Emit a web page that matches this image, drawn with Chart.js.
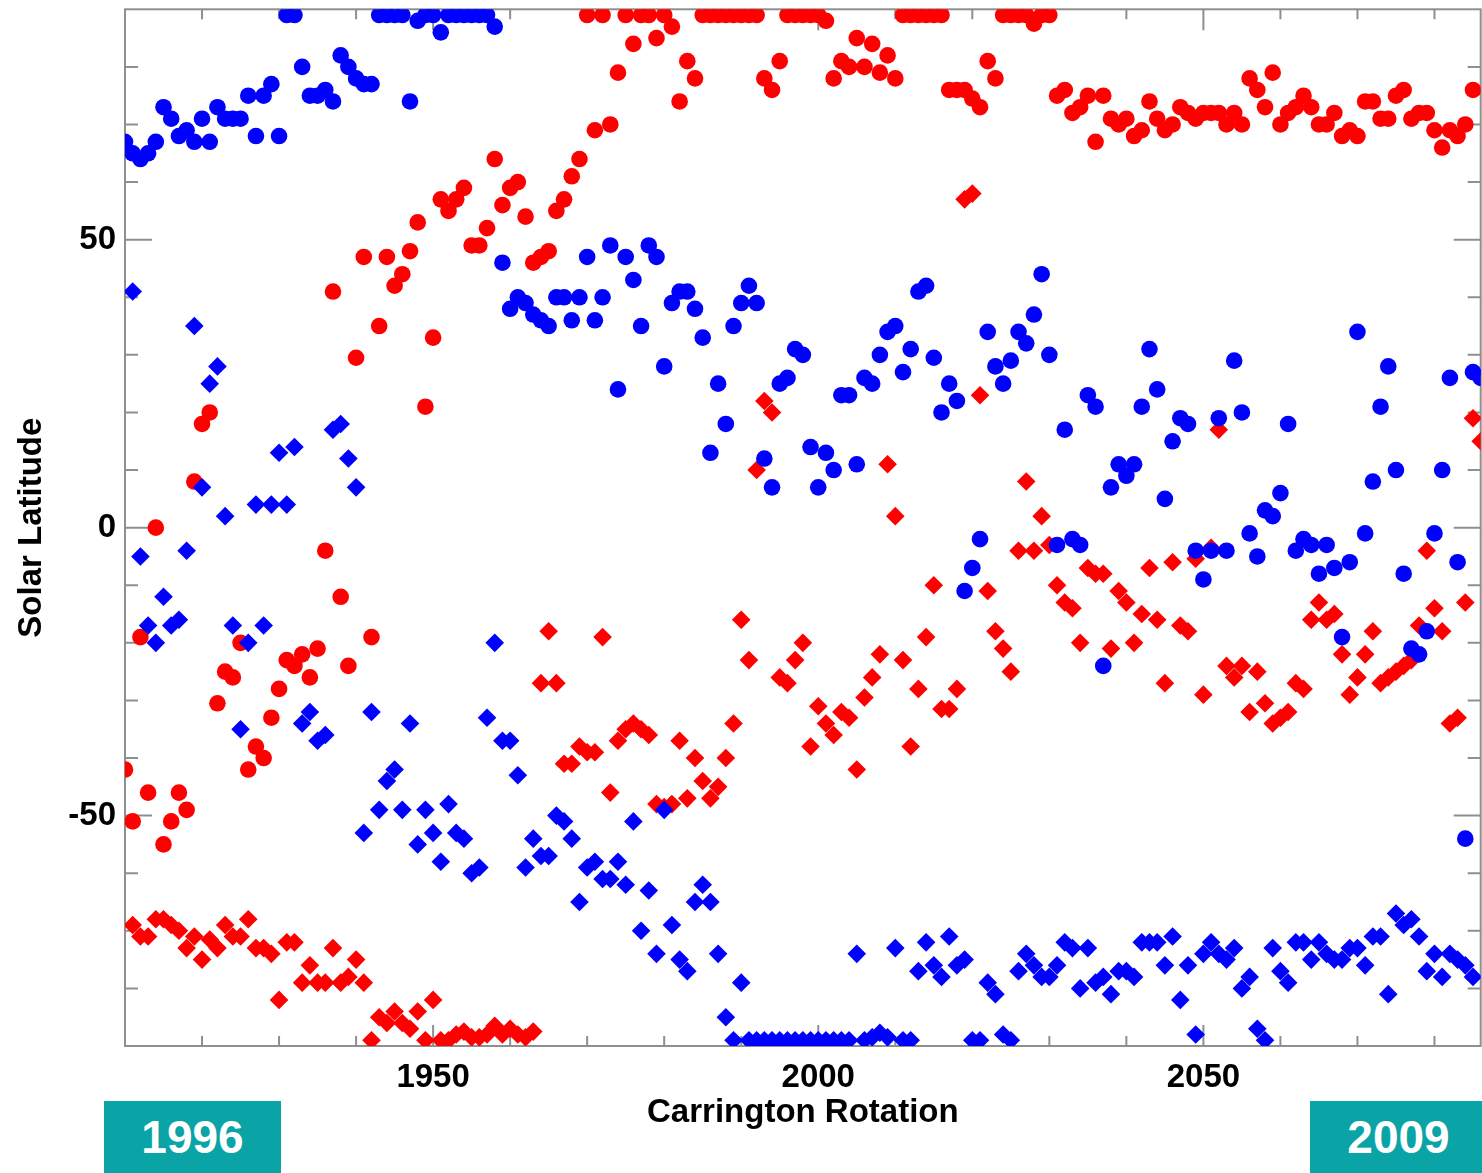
<!DOCTYPE html>
<html>
<head>
<meta charset="utf-8">
<script src="https://cdn.jsdelivr.net/npm/chart.js@4.4.1/dist/chart.umd.min.js"></script>
<style>
  html, body { margin: 0; padding: 0; background: #fff; overflow: hidden; width: 1482px; height: 1173px; }
  #wrap { position: absolute; left: 0; top: 0; width: 1490px; height: 1173px; }
  .badge {
    position: absolute; top: 1101px; width: 177px; height: 72px;
    background: #0aa3a6; color: #fff;
    font: bold 46px "Liberation Sans", Arial, Helvetica, sans-serif;
    display: flex; align-items: center; justify-content: center;
  }
</style>
</head>
<body>
<div id="wrap"><canvas id="c" width="1490" height="1173"></canvas></div>
<div class="badge" style="left:104px">1996</div>
<div class="badge" style="left:1310px">2009</div>
<script>
// Red circles
const rcRot = [
  1910,1911,1912,1913,1914,1915,1916,1917,1918,1919,
  1920,1921,1922,1923,1924,1925,1926,1927,1928,1929,
  1930,1931,1932,1933,1934,1935,1936,1937,1938,1939,
  1940,1941,1942,1943,1944,1945,1946,1947,1948,1949,
  1950,1951,1952,1953,1954,1955,1956,1957,1958,1959,
  1960,1961,1962,1963,1964,1965,1966,1967,1968,1969,
  1970,1971,1972,1973,1974,1975,1976,1977,1978,1979,
  1980,1981,1982,1983,1984,1985,1986,1987,1988,1989,
  1990,1991,1992,1993,1994,1995,1996,1997,1998,1999,
  2000,2001,2002,2003,2004,2005,2006,2007,2008,2009,
  2010,2011,2012,2013,2014,2015,2016,2017,2018,2019,
  2020,2021,2022,2023,2024,2025,2026,2027,2028,2029,
  2030,2031,2032,2033,2034,2035,2036,2037,2038,2039,
  2040,2041,2042,2043,2044,2045,2046,2047,2048,2049,
  2050,2051,2052,2053,2054,2055,2056,2057,2058,2059,
  2060,2061,2062,2063,2064,2065,2066,2067,2068,2069,
  2070,2071,2072,2073,2074,2075,2076,2077,2078,2079,
  2080,2081,2082,2083,2084,2085
];
const rcLat = [
  -42,-51,-19,-46,0,-55,-51,-46,-49,8,
  18,20,-30.5,-25,-26,-20,-42,-38,-40,-33,
  -28,-23,-24,-22,-26,-21,-4,41,-12,-24,
  29.5,47,-19,35,47,42,44,48,53,21,
  33,57,55,57,59,49,49,52,64,56,
  59,60,54,46,47,48,55,57,61,64,
  89,69,89,70,79,89,84,89,89,85,
  89,87,74,81,78,89,89,89,89,89,
  89,89,89,78,76,81,89,89,89,89,
  89,88,78,81,80,85,80,84,79,82,
  78,89,89,89,89,89,89,76,76,76,
  74.5,73,81,78,89,89,89,89,87.5,89,
  89,75,76,72,73,75,67,75,71,70,
  71,68,69,74,71,69,70,73,72,71,
  72,72,72,70,72,70,78,76,73,79,
  70,72,73,75,73,70,70,72,68,69,
  68,74,74,71,71,75,76,71,72,72,
  69,66,69,68,70,76
];

// Red diamonds
const rdRot = [
  1911,1912,1913,1914,1915,1916,1917,1918,1919,
  1920,1921,1922,1923,1924,1925,1926,1927,1928,1929,
  1930,1931,1932,1933,1934,1935,1936,1937,1938,1939,
  1940,1941,1942,1943,1944,1945,1946,1947,1948,1949,
  1950,1951,1952,1953,1954,1955,1956,1957,1958,1959,
  1960,1961,1962,1963,1964,1965,1966,1967,1968,1969,
  1970,1971,1972,1973,1974,1975,1976,1977,1978,1979,
  1980,1981,1982,1983,1984,1985,1986,1987,1988,1989,
  1990,1991,1992,1993,1994,1995,1996,1997,1998,1999,
  2000,2001,2002,2003,2004,2005,2006,2007,2008,2009,
  2010,2011,2012,2013,2014,2015,2016,2017,2018,2019,
  2020,2021,2022,2023,2024,2025,2026,2027,2028,2029,
  2030,2031,2032,2033,2034,2035,2036,2037,2038,2039,
  2040,2041,2042,2043,2044,2045,2046,2047,2048,2049,
  2050,2051,2052,2053,2054,2055,2056,2057,2058,2059,
  2060,2061,2062,2063,2064,2065,2066,2067,2068,2069,
  2070,2071,2072,2073,2074,2075,2076,2077,2078,2079,
  2080,2081,2082,2083,2084,2085,2086
];
const rdLat = [
  -69,-71,-71,-68,-68,-69,-70,-73,-71,
  -75,-71.5,-73,-69,-71,-71,-68,-73,-73,-74,
  -82,-72,-72,-79,-76,-79,-79,-73,-79,-78,
  -75,-79,-89,-85,-86,-84,-86,-87,-84,-89,
  -82,-89,-89,-88,-87.5,-88.5,-88.5,-88,-86.5,-88,
  -87,-88,-88.5,-87.5,-27,-18,-27,-41,-41,-38,
  -39,-39,-19,-46,-37,-35,-34,-35,-36,-48,
  -48.5,-48,-37,-47,-40,-44,-47,-45,-40,-34,
  -16,-23,10,22,20,-26,-27,-23,-20,-38,
  -31,-34,-36,-32,-33,-42,-29.5,-26,-22,11,
  2,-23,-38,-28,-19,-10,-31.5,-31.5,-28,57,
  58,23,-11,-18,-21,-25,-4,8,-4,2,
  -3,-10,-13,-14,-20,-7,-8,-8,-21,-11,
  -13,-20,-15,-7,-16,-27,-6,-17,-18,-5.4,
  -29,-3.5,17,-24,-26,-24,-32,-25,-30.5,-34,
  -33,-32,-27,-28,-16,-13,-16,-15,-22,-29,
  -26,-22,-18,-27,-26,-25,-24,-23,-17,-4,
  -14,-18,-34,-33,-13,19,15
];

// Blue circles
const bcRot = [
  1910,1911,1912,1913,1914,1915,1916,1917,1918,1919,
  1920,1921,1922,1923,1924,1925,1926,1927,1928,1929,
  1930,1931,1932,1933,1934,1935,1936,1937,1938,1939,
  1940,1941,1942,1943,1944,1945,1946,1947,1948,1949,
  1950,1951,1952,1953,1954,1955,1956,1957,1958,1959,
  1960,1961,1962,1963,1964,1965,1966,1967,1968,1969,
  1970,1971,1972,1973,1974,1975,1976,1977,1978,1979,
  1980,1981,1982,1983,1984,1985,1986,1987,1988,1989,
  1990,1991,1992,1993,1994,1995,1996,1997,1998,1999,
  2000,2001,2002,2003,2004,2005,2006,2007,2008,2009,
  2010,2011,2012,2013,2014,2015,2016,2017,2018,2019,
  2020,2021,2022,2023,2024,2025,2026,2027,2028,2029,
  2030,2031,2032,2033,2034,2035,2036,2037,2038,2039,
  2040,2041,2042,2043,2044,2045,2046,2047,2048,2049,
  2050,2051,2052,2053,2054,2055,2056,2057,2058,2059,
  2060,2061,2062,2063,2064,2065,2066,2067,2068,2069,
  2070,2071,2072,2073,2074,2075,2076,2077,2078,2079,
  2080,2081,2082,2083,2084,2085,2086
];
const bcLat = [
  67,65,64,65,67,73,71,68,69,67,
  71,67,73,71,71,71,75,68,75,77,
  68,89,89,80,75,75,76,74,82,80,
  78,77,77,89,89,89,89,74,88,89,
  89,86,89,89,89,89,89,89,87,46,
  38,40,39,37,36,35,40,40,36,40,
  47,36,40,49,24,47,43,35,49,47,
  28,39,41,41,38,33,13,25,18,35,
  39,42,39,12,7,25,26,31,30,14,
  7,13,10,23,23,11,26,25,30,34,
  35,27,31,41,42,29.5,20,25,22,-11,
  -7,-2,34,28,25,29,34,32,37,44,
  30,-3,17,-2,-3,23,21,-24,7,11,
  9,11,21,31,24,5,15,19,18,-4,
  -9,-4,19,-4,29,20,-1,-5,3,2,
  6,18,-4,-2,-3,-8,-3,-7,-19,-6,
  34,-1,8,21,28,10,-8,-21,-22,-18,
  -1,10,26,-6,-54,27,26
];

// Blue diamonds
const bdRot = [
  1911,1912,1913,1914,1915,1916,1917,1918,1919,
  1920,1921,1922,1923,1924,1925,1926,1927,1928,1929,
  1930,1931,1932,1933,1934,1935,1936,1937,1938,1939,
  1940,1941,1942,1943,1944,1945,1946,1947,1948,1949,
  1950,1951,1952,1953,1954,1955,1956,1957,1958,1959,
  1960,1961,1962,1963,1964,1965,1966,1967,1968,1969,
  1970,1971,1972,1973,1974,1975,1976,1977,1978,1979,
  1980,1981,1982,1983,1984,1985,1986,1987,1988,1989,
  1990,1991,1992,1993,1994,1995,1996,1997,1998,1999,
  2000,2001,2002,2003,2004,2005,2006,2007,2008,2009,
  2010,2011,2012,2013,2014,2015,2016,2017,2018,2019,
  2020,2021,2022,2023,2024,2025,2026,2027,2028,2029,
  2030,2031,2032,2033,2034,2035,2036,2037,2038,2039,
  2040,2041,2042,2043,2044,2045,2046,2047,2048,2049,
  2050,2051,2052,2053,2054,2055,2056,2057,2058,2059,
  2060,2061,2062,2063,2064,2065,2066,2067,2068,2069,
  2070,2071,2072,2073,2074,2075,2076,2077,2078,2079,
  2080,2081,2082,2083,2084,2085
];
const bdLat = [
  41,-5,-17,-20,-12,-17,-16,-4,35,
  7,25,28,2,-17,-35,-20,4,-17,4,
  13,4,14,-34,-32,-37,-36,17,18,12,
  7,-53,-32,-49,-44,-42,-49,-34,-55,-49,
  -53,-58,-48,-53,-54,-60,-59,-33,-20,-37,
  -37,-43,-59,-54,-57,-57,-50,-51,-54,-65,
  -59,-58,-61,-61,-58,-62,-51,-70,-63,-74,
  -49,-69,-75,-77,-65,-62,-65,-74,-85,-89,
  -79,-89,-89,-89,-89,-89,-89,-89,-89,-89,
  -89,-89,-89,-89,-89,-74,-89,-88.5,-87.7,-88.5,
  -73,-89,-89,-77,-72,-76,-78,-71,-76,-75,
  -89,-89,-79,-81,-88,-89,-77,-74,-76,-78,
  -78,-76,-72,-73,-80,-73,-79,-78,-81,-77,
  -77,-78,-72,-72,-72,-76,-71,-82,-76,-88,
  -74,-72,-74,-75,-73,-80,-78,-87,-89,-73,
  -77,-79,-72,-72,-75,-72,-74,-75,-75,-73,
  -73,-76,-71,-71,-81,-67,-69,-68,-71,-77,
  -74,-78,-74,-75,-76,-78
];

// Axis ticks
const rotRange = [1910, 2086];
const latRange = [-90, 90];
const rotMajor = [1950, 2000, 2050];
const rotMinor = [1920, 1930, 1940, 1960, 1970, 1980, 1990, 2010, 2020, 2030, 2040, 2060, 2070, 2080];
const latMajor = [-50, 0, 50];
const latMinor = [-80, -70, -60, -40, -30, -20, -10, 10, 20, 30, 40, 60, 70, 80];

const FONT = '"Liberation Sans", Arial, Helvetica, sans-serif';

function toPoints(rot, lat) {
  return rot.map((r, i) => ({ x: r, y: lat[i] }));
}

// Box frame with inward ticks on all four sides
const framePlugin = {
  id: 'frame',
  beforeDatasetsDraw(chart) {
    const { ctx, chartArea: a, scales: { x, y } } = chart;
    ctx.save();
    ctx.strokeStyle = '#8f8f8f';
    ctx.lineWidth = 2;
    ctx.strokeRect(a.left, a.top, a.right - a.left, a.bottom - a.top);
    ctx.beginPath();
    const yTick = (v, len) => {
      const p = y.getPixelForValue(v);
      ctx.moveTo(a.left, p); ctx.lineTo(a.left + len, p);
      ctx.moveTo(a.right, p); ctx.lineTo(a.right - len, p);
    };
    const xTick = (v, len) => {
      const p = x.getPixelForValue(v);
      ctx.moveTo(p, a.bottom); ctx.lineTo(p, a.bottom - len);
      ctx.moveTo(p, a.top); ctx.lineTo(p, a.top + len);
    };
    latMajor.forEach(v => yTick(v, 27));
    latMinor.forEach(v => yTick(v, 13));
    rotMajor.forEach(v => xTick(v, 21));
    rotMinor.forEach(v => xTick(v, 10));
    ctx.stroke();
    ctx.restore();
  }
};

new Chart(document.getElementById('c'), {
  type: 'scatter',
  data: {
    datasets: [
      { label: 'Blue diamonds', data: toPoints(bdRot, bdLat), pointStyle: 'rectRot', pointRadius: 9.3,
        backgroundColor: '#0000ff', borderWidth: 0, order: 0 },
      { label: 'Blue circles', data: toPoints(bcRot, bcLat), pointStyle: 'circle', pointRadius: 8.3,
        backgroundColor: '#0000ff', borderWidth: 0, order: 1 },
      { label: 'Red diamonds', data: toPoints(rdRot, rdLat), pointStyle: 'rectRot', pointRadius: 9.3,
        backgroundColor: '#ff0000', borderWidth: 0, order: 2 },
      { label: 'Red circles', data: toPoints(rcRot, rcLat), pointStyle: 'circle', pointRadius: 8.3,
        backgroundColor: '#ff0000', borderWidth: 0, order: 3 }
    ]
  },
  options: {
    responsive: false,
    animation: false,
    layout: { padding: { left: 0, right: 5, top: 8, bottom: 0 } },
    plugins: { legend: { display: false }, tooltip: { enabled: false } },
    scales: {
      x: {
        type: 'linear', position: 'bottom',
        min: rotRange[0], max: rotRange[1],
        grid: { display: false, drawTicks: false },
        border: { display: false },
        afterBuildTicks: s => { s.ticks = rotMajor.map(v => ({ value: v })); },
        afterFit: s => { s.height = 127; s.paddingLeft = 0; s.paddingRight = 0; },
        ticks: {
          autoSkip: false, maxRotation: 0, padding: 12, color: '#000',
          font: { family: FONT, size: 33, weight: 'bold' },
          callback: v => String(v)
        },
        title: {
          display: true, text: 'Carrington Rotation', color: '#000',
          font: { family: FONT, size: 33, weight: 'bold' },
          padding: { top: 0, bottom: 40 }
        }
      },
      y: {
        type: 'linear', position: 'left',
        min: latRange[0], max: latRange[1],
        grid: { display: false, drawTicks: false },
        border: { display: false },
        afterBuildTicks: s => { s.ticks = latMajor.map(v => ({ value: v })); },
        afterFit: s => { s.width = 125; s.paddingTop = 0; s.paddingBottom = 0; },
        ticks: {
          autoSkip: false, padding: 9, color: '#000',
          font: { family: FONT, size: 33, weight: 'bold' },
          callback: v => String(v)
        },
        title: {
          display: true, text: 'Solar Latitude', color: '#000',
          font: { family: FONT, size: 33, weight: 'bold' },
          padding: { top: 12, bottom: 0 }
        }
      }
    }
  },
  plugins: [framePlugin]
});
</script>
</body>
</html>
